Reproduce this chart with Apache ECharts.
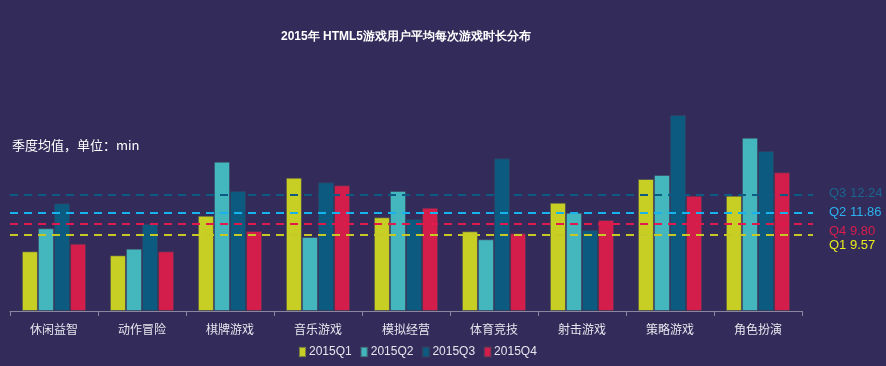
<!DOCTYPE html>
<html>
<head>
<meta charset="utf-8">
<script src="https://cdn.jsdelivr.net/npm/echarts@6/dist/echarts.min.js"></script>
<style>
html,body{margin:0;padding:0;background:#332c5a;}
#c{width:886px;height:366px;}
</style>
</head>
<body>
<div id="c"></div>
<script>
var categories = ['休闲益智','动作冒险','棋牌游戏','音乐游戏','模拟经营','体育竞技','射击游戏','策略游戏','角色扮演'];
var seriesNames = ['2015Q1','2015Q2','2015Q3','2015Q4'];
var q1 = [5.97, 5.57, 9.53, 13.33, 9.37, 7.97, 10.83, 13.2, 11.53];
var q2 = [8.27, 6.23, 14.93, 7.4, 12.0, 7.17, 9.83, 13.6, 17.33];
var q3 = [10.77, 8.7, 12.0, 12.87, 9.2, 15.27, 8.1, 19.6, 16.0];
var q4 = [6.73, 5.97, 8.0, 12.57, 10.33, 7.77, 9.1, 11.53, 13.87];
// quarterly averages as printed on the chart
var avgLabels = ['Q1 9.57', 'Q2 11.86', 'Q3 12.24', 'Q4 9.80'];
// levels at which the average lines are drawn in the reference
var avgLevels = [7.65, 9.83, 11.6, 8.7];

var barColors = ['#c8cf24', '#44b6bd', '#0d5a80', '#d31e4b'];
var lineColors = ['#c6c925', '#16b3ee', '#0f5a82', '#e01a4c'];
var labelColors = ['#e8ea1c', '#2bb1ee', '#1a6590', '#d81d4c'];
var labelShift = [11, 0, -2, 7];

var dataSets = [q1, q2, q3, q4];
var chart = echarts.init(document.getElementById('c'));
var series = dataSets.map(function (d, i) {
  var s = labelShift[i];
  var pad = s >= 0 ? [2 * s, 0, 0, 0] : [0, 0, -2 * s, 0];
  return {
    name: seriesNames[i],
    type: 'bar',
    data: d,
    barGap: '0%',
    barCategoryGap: '27%',
    itemStyle: {color: barColors[i], borderColor: 'rgba(60,60,90,0.55)', borderWidth: 1},
    markLine: {
      silent: true,
      symbol: 'none',
      lineStyle: {color: lineColors[i], type: [8, 6], width: 2},
      label: {
        show: true,
        position: 'end',
        formatter: '{a|' + avgLabels[i] + '}',
        distance: 16,
        rich: {
          a: {
            color: labelColors[i],
            fontSize: 13,
            fontFamily: 'Liberation Sans, Arial, sans-serif',
            padding: pad
          }
        }
      },
      data: [[{x: 10, yAxis: avgLevels[i]}, {x: 813, yAxis: avgLevels[i]}]]
    }
  };
});

chart.setOption({
  backgroundColor: '#332c5a',
  animation: false,
  title: {
    text: '2015年 HTML5游戏用户平均每次游戏时长分布',
    left: 401, textAlign: 'center', top: 26,
    textStyle: {color: '#ffffff', fontSize: 12, fontWeight: 'bold', fontFamily: 'Liberation Sans, Arial, sans-serif'}
  },
  graphic: [{
    type: 'text', left: 12, top: 139,
    style: {text: '季度均值，单位：min', fill: '#ffffff', fontSize: 13, fontFamily: 'Noto Sans CJK SC, sans-serif'}
  }],
  legend: {
    data: seriesNames,
    bottom: 3,
    left: 293,
    itemWidth: 7,
    itemHeight: 10,
    itemGap: 8,
    icon: 'rect',
    textStyle: {color: '#e6e6ee', fontSize: 12, fontFamily: 'Liberation Sans, Arial, sans-serif', padding: [0, 0, 0, -2]}
  },
  grid: {left: 10, right: 84, top: 61, bottom: 55, containLabel: false},
  xAxis: {
    type: 'category',
    data: categories,
    axisLine: {lineStyle: {color: '#8a86a0', width: 1}},
    axisTick: {show: true, length: 5, lineStyle: {color: '#8a86a0'}},
    axisLabel: {color: '#e6e6ee', fontSize: 12, margin: 12, fontFamily: 'Noto Sans CJK SC, sans-serif'}
  },
  yAxis: {
    type: 'value', min: 0, max: 25, show: false, splitLine: {show: false}
  },
  series: series
});
</script>
</body>
</html>
